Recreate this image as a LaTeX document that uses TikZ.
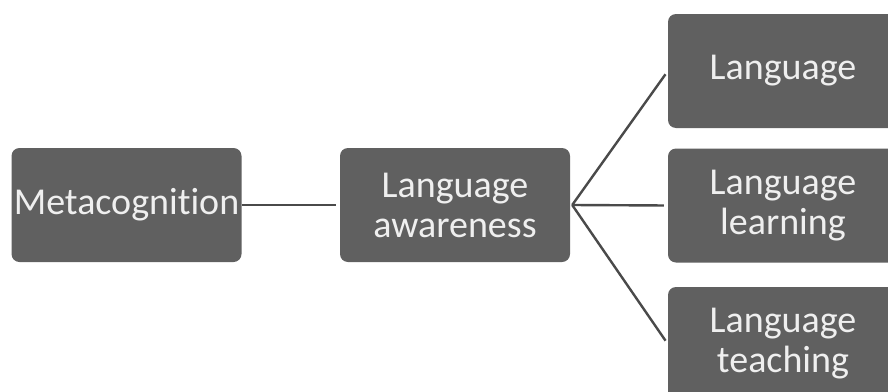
\documentclass[tikz,border=0pt]{standalone}
\usepackage{fontspec}
\setmainfont{Carlito}[Ligatures={NoCommon}]
\definecolor{boxfill}{HTML}{606060}
\definecolor{boxtext}{HTML}{EFEFEF}
\definecolor{linkcol}{HTML}{4A4A4A}
\tikzset{
  concept/.style={draw=none, fill=boxfill, text=boxtext, rounded corners=8pt,
    minimum width=230pt, minimum height=114pt, inner sep=0pt, align=center,
    font=\fontsize{38}{40}\selectfont},
  link/.style={draw=linkcol, line width=2.4pt, shorten >=4pt}
}
\begin{document}
\begin{tikzpicture}[x=1pt,y=-1pt]
\useasboundingbox (0,0) rectangle (888,391);
\fill[white] (0,0) rectangle (888,391);
\clip (0,0) rectangle (888,391);
\node[concept] (meta) at (126.5,205) {Metacognition};
\node[concept] (aware) at (455,205) {Language\\awareness};
\node[concept] (lang) at (783,71) {Language};
\node[concept] (learn) at (783,205.5) {Language\\learning};
\node[concept] (teach) at (783,344) {Language\\teaching};
\draw[link] (meta.east) -- (aware.west);
\draw[link] ([xshift=2pt]aware.east) -- (lang.west);
\draw[link] ([xshift=2pt]aware.east) -- (learn.west);
\draw[link] ([xshift=2pt]aware.east) -- (teach.west);
\end{tikzpicture}
\end{document}
